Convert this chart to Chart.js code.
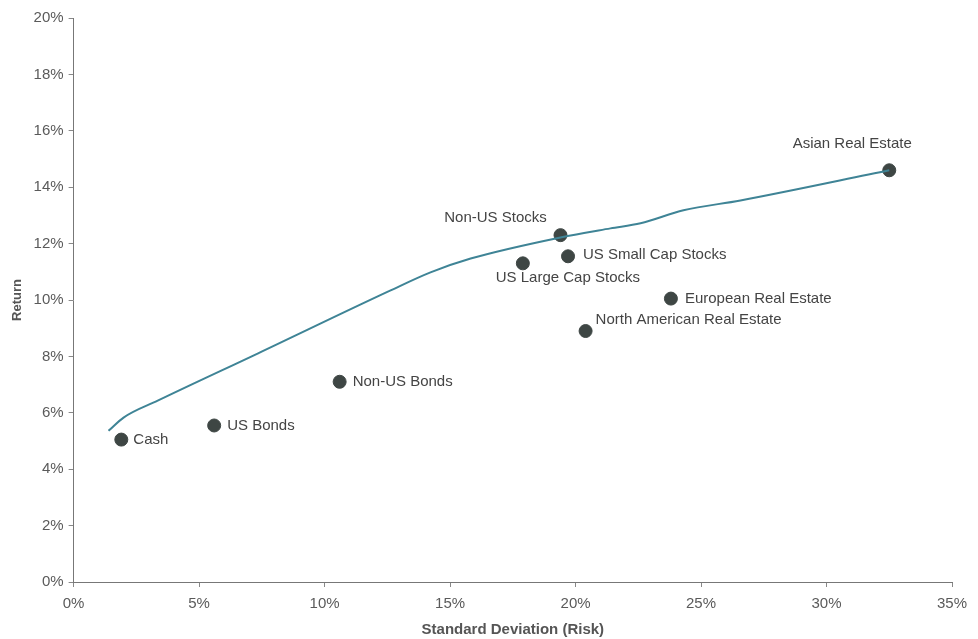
<!DOCTYPE html>
<html>
<head>
<meta charset="utf-8">
<script src="https://cdn.jsdelivr.net/npm/chart.js@4.4.0/dist/chart.umd.min.js"></script>
<style>
html,body{margin:0;padding:0;background:#fff;}
#wrap{width:978px;height:639px;position:relative;}
</style>
</head>
<body>
<div id="wrap"><canvas id="c" width="978" height="639"></canvas></div>
<script>
// Asset classes (risk %, return %)
const assetNames = ["Cash","US Bonds","Non-US Bonds","US Large Cap Stocks","Non-US Stocks","US Small Cap Stocks","North American Real Estate","European Real Estate","Asian Real Estate"];
const assetRisk  = [1.9, 5.6, 10.6, 17.9, 19.4, 19.7, 20.4, 23.8, 32.5];
const assetReturn= [5.05, 5.55, 7.1, 11.3, 12.3, 11.55, 8.9, 10.05, 14.6];

// Efficient frontier curve
const frontierRisk   = [1.39, 1.99, 3.35, 7.33, 12.63, 14.22, 15.82, 19.4, 21.39, 22.59, 24.3, 26.57, 32.5];
const frontierReturn = [5.36, 5.83, 6.43, 8.10, 10.34, 10.98, 11.47, 12.22, 12.54, 12.72, 13.18, 13.53, 14.6];

const xTicks = [0,5,10,15,20,25,30,35];
const yTicks = [0,2,4,6,8,10,12,14,16,18,20];

// label placement: [align, dx, dy]
const labelPos = [
  ["left", 12, 0],
  ["left", 13, 0],
  ["left", 13, 0],
  ["center", 45, 15],
  ["center", -65, -17],
  ["left", 15, -1],
  ["left", 10, -11],
  ["left", 14, 0],
  ["center", -37, -26]
];

const FONT = '"Liberation Sans", Arial, sans-serif';

const labelPlugin = {
  id: 'assetLabels',
  afterDatasetsDraw(chart) {
    const ctx = chart.ctx;
    const xs = chart.scales.x, ys = chart.scales.y;
    ctx.save();
    ctx.font = '15px ' + FONT;
    ctx.fillStyle = '#444';
    ctx.textBaseline = 'middle';
    assetNames.forEach((n,i)=>{
      const px = xs.getPixelForValue(assetRisk[i]);
      const py = ys.getPixelForValue(assetReturn[i]);
      const p = labelPos[i];
      ctx.textAlign = p[0];
      ctx.fillText(n, px + p[1], py + p[2]);
    });
    ctx.restore();
  }
};

const pct = v => v + '%';

new Chart(document.getElementById('c'), {
  type: 'scatter',
  data: {
    datasets: [
      {
        label: 'Frontier',
        data: frontierRisk.map((x,i)=>({x, y: frontierReturn[i]})),
        showLine: true,
        borderColor: '#3f8496',
        borderWidth: 2,
        pointRadius: 0,
        cubicInterpolationMode: 'monotone',
        fill: false
      },
      {
        label: 'Assets',
        data: assetRisk.map((x,i)=>({x, y: assetReturn[i]})),
        backgroundColor: '#3e4644',
        borderColor: '#3e4644',
        pointRadius: 6.5,
        pointHoverRadius: 6.5
      }
    ]
  },
  options: {
    responsive: false,
    animation: false,
    layout: { padding: { left: 10, right: 26, top: 18, bottom: 0 } },
    plugins: { legend: { display: false }, tooltip: { enabled: false } },
    scales: {
      x: {
        type: 'linear', min: 0, max: 35,
        afterBuildTicks: s => { s.ticks = xTicks.map(v=>({value:v})); },
        ticks: { callback: pct, color: '#5a5a5a', font: { size: 15, family: FONT }, padding: 8 },
        grid: { drawOnChartArea: false, drawTicks: true, tickLength: 5, color: '#888' },
        border: { color: '#777', width: 1 },
        title: { display: true, text: 'Standard Deviation (Risk)', color: '#555', font: { size: 15, weight: 'bold', family: FONT }, padding: { top: 0, bottom: 0 } }
      },
      y: {
        type: 'linear', min: 0, max: 20,
        afterBuildTicks: s => { s.ticks = yTicks.map(v=>({value:v})); },
        ticks: { callback: pct, color: '#5a5a5a', font: { size: 15, family: FONT }, padding: 5 },
        grid: { drawOnChartArea: false, drawTicks: true, tickLength: 5, color: '#888' },
        border: { color: '#777', width: 1 },
        title: { display: true, text: 'Return', color: '#555', font: { size: 13, weight: 'bold', family: FONT }, padding: { top: 0, bottom: 3 } }
      }
    }
  },
  plugins: [labelPlugin]
});
</script>
</body>
</html>
